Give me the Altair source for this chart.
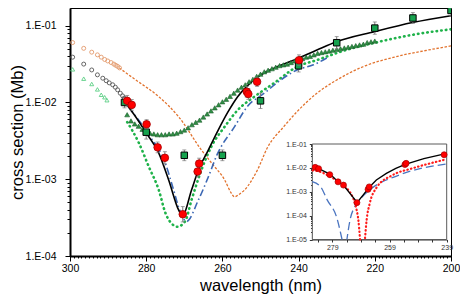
import altair as alt
import pandas as pd

# ------------------------------------------------------------------ data
# red circles (measurements)
red_wl = [285.0, 283.8, 279.9, 277.0, 275.1, 270.4, 266.5, 266.1, 253.6, 253.2, 250.9, 239.9]
red_cs = [1.05e-2, 9.3e-3, 5.2e-3, 2.6e-3, 1.9e-3, 3.5e-4, 1.26e-3, 1.6e-3, 1.38e-2, 1.29e-2, 1.86e-2, 3.55e-2]
red_err = [0.07, 0.07, 0.06, 0.07, 0.08, 0.10, 0.07, 0.07, 0.07, 0.07, 0.06, 0.07]  # log10 half width

# green squares
sq_wl = [285.7, 280, 270, 260, 250, 240, 230, 220, 210, 200]
sq_cs = [1.0e-2, 4.1e-3, 2.05e-3, 2.05e-3, 1.05e-2, 3.0e-2, 6.0e-2, 9.3e-2, 1.26e-1, 1.58e-1]
sq_err = [0.07, 0.09, 0.07, 0.07, 0.10, 0.08, 0.08, 0.08, 0.07, 0.07]

# dark green filled triangles
tri_wl = [285, 284, 283, 282, 281, 280, 279, 278, 277, 276, 275, 274, 273, 272, 271, 270,
          269, 268, 267, 266, 265, 264, 263, 262, 261, 260, 259, 258, 257, 256, 255, 254,
          253, 252, 251, 250, 249, 248, 247, 246, 245, 244, 243, 242, 241, 240, 239, 238,
          237, 236, 235, 234, 233, 232, 231, 230, 229, 228, 227, 226, 225, 224, 223, 222,
          221, 220]
tri_cs = [6.92e-3, 5.75e-3, 5.25e-3, 4.90e-3, 4.47e-3, 4.17e-3, 3.98e-3, 3.89e-3, 3.80e-3,
          3.80e-3, 3.80e-3, 3.89e-3, 3.89e-3, 3.98e-3, 4.17e-3, 4.37e-3, 4.68e-3, 5.13e-3,
          5.50e-3, 5.89e-3, 6.46e-3, 7.08e-3, 7.76e-3, 8.51e-3, 9.33e-3, 1.02e-2, 1.10e-2,
          1.20e-2, 1.32e-2, 1.45e-2, 1.58e-2, 1.70e-2, 1.86e-2, 2.00e-2, 2.19e-2, 2.34e-2,
          2.51e-2, 2.63e-2, 2.75e-2, 2.88e-2, 3.02e-2, 3.09e-2, 3.16e-2, 3.31e-2, 3.47e-2,
          3.63e-2, 3.72e-2, 3.89e-2, 3.98e-2, 4.17e-2, 4.37e-2, 4.47e-2, 4.57e-2, 4.68e-2,
          4.79e-2, 4.90e-2, 5.01e-2, 5.13e-2, 5.25e-2, 5.37e-2, 5.50e-2, 5.62e-2, 5.75e-2,
          6.03e-2, 6.17e-2, 6.31e-2]

# open symbols (long-wavelength tail)
oc_wl = [299.3, 296.4, 294.3, 292.8, 291.8, 290.9, 290.1, 289.2, 288.5, 288.0, 287.5, 287.0]
oc_cs = [6.03e-2, 5.07e-2, 4.52e-2, 4.17e-2, 3.89e-2, 3.63e-2, 3.47e-2, 3.31e-2, 3.16e-2,
         3.05e-2, 2.95e-2, 2.82e-2]
gc_wl = [299.3, 296.4, 294.3, 292.8, 291.4, 290.5, 289.7, 288.8, 288.1, 287.5, 286.8, 286.2, 285.75]
gc_cs = [3.89e-2, 3.16e-2, 2.65e-2, 2.29e-2, 2.07e-2, 1.92e-2, 1.80e-2, 1.70e-2, 1.58e-2,
         1.46e-2, 1.32e-2, 1.22e-2, 1.14e-2]
gt_wl = [299.3, 296.4, 294.3, 292.8, 291.8, 290.9, 290.3]
gt_cs = [2.70e-2, 2.04e-2, 1.74e-2, 1.48e-2, 1.26e-2, 1.17e-2, 1.07e-2]

# model curves
orange_wl = [287.0, 282.7, 276.7, 271.5, 265.5, 262.5, 259.4, 257.8, 256.8, 255.7, 254.2, 250.8,
             248.2, 243.9, 240.4, 235.2, 230.0, 223.1, 214.5, 205.9, 200.0]
orange_cs = [2.79e-2, 1.96e-2, 1.19e-2, 6.53e-3, 2.40e-3, 1.55e-3, 9.77e-4, 6.76e-4, 5.89e-4,
             6.31e-4, 7.24e-4, 1.32e-3, 2.57e-3, 4.84e-3, 7.59e-3, 1.32e-2, 1.96e-2, 2.92e-2,
             3.94e-2, 4.83e-2, 5.45e-2]
black_wl = [285.75, 283.0, 279.97, 276.7, 274.1, 271.5, 270.5, 268.1, 266.3, 263.7, 261.1,
            258.5, 256.0, 253.4, 249.9, 245.6, 240.4, 235.2, 230.05, 220.1, 210.1, 200.0]
black_cs = [1.03e-2, 6.76e-3, 3.98e-3, 2.19e-3, 9.77e-4, 3.98e-4, 3.31e-4, 7.24e-4, 1.32e-3,
            2.40e-3, 4.37e-3, 7.59e-3, 1.19e-2, 1.66e-2, 2.29e-2, 2.92e-2, 3.72e-2, 4.83e-2,
            6.19e-2, 8.36e-2, 0.110, 0.135]
blue_wl = [284.0, 279.3, 275.0, 272.8, 271.5, 269.4, 266.3, 263.7, 261.4, 256.8, 253.4, 249.0,
           244.7, 240.4, 236.1, 232.6]
blue_cs = [7.94e-3, 3.80e-3, 1.62e-3, 7.24e-4, 4.37e-4, 2.82e-4, 5.37e-4, 1.07e-3, 2.09e-3,
           4.84e-3, 8.91e-3, 1.32e-2, 1.96e-2, 2.65e-2, 3.09e-2, 3.80e-2]
gdot_wl = [285.3, 281.9, 279.3, 276.7, 274.95, 272.8, 271.9, 269.8, 268.1, 265.5, 262.9, 259.4,
           256.0, 251.6, 246.5, 240.4, 235.2, 227.5, 218.8, 210.2, 200.0]
gdot_cs = [5.89e-3, 2.95e-3, 1.45e-3, 7.24e-4, 3.63e-4, 2.51e-4, 2.40e-4, 2.82e-4, 5.37e-4,
           1.32e-3, 2.66e-3, 4.84e-3, 7.94e-3, 1.19e-2, 1.78e-2, 2.92e-2, 3.57e-2, 4.83e-2,
           6.19e-2, 7.59e-2, 8.97e-2]

# inset
ins_red_wl = [285.0, 283.8, 279.9, 277.0, 275.1, 270.4, 266.5, 266.1, 253.6, 253.2, 239.9]
ins_red_cs = [1.05e-2, 9.3e-3, 5.2e-3, 2.6e-3, 1.9e-3, 3.5e-4, 1.26e-3, 1.6e-3, 1.38e-2, 1.55e-2, 3.55e-2]
ins_black_wl = [285.2, 279.7, 277.2, 275.3, 270.3, 265.9, 263.6, 260.1, 256.8, 253.5, 247.0, 240.1]
ins_black_cs = [1.12e-2, 5.37e-3, 2.75e-3, 2.00e-3, 3.55e-4, 1.62e-3, 3.09e-3, 5.89e-3, 9.55e-3,
                1.41e-2, 2.45e-2, 3.80e-2]
ins_blue_wl = [286.0, 283.1, 280.8, 277.4, 275.6, 273.9, 272.8, 271.1, 269.9, 265.9, 255.6, 239.4]
ins_blue_cs = [2.63e-3, 1.62e-3, 4.57e-4, 7.94e-5, 1.0e-5, 1.0e-5, 6.61e-5, 2.40e-4, 3.89e-4,
               1.20e-3, 5.01e-3, 1.45e-2]
ins_blue_seg = [0, 0, 0, 0, 0, 1, 1, 1, 1, 1, 1, 1]
ins_reddot_wl = [286.0, 283.1, 279.7, 276.2, 271.7, 270.5, 269.9, 269.3,
                 267.6, 267.0, 265.9, 263.6, 257.9, 251.0, 240.1]
ins_reddot_cs = [7.94e-3, 6.76e-3, 4.27e-3, 2.29e-3, 5.37e-4, 1.74e-4, 6.61e-5, 1.0e-5,
                 1.0e-5, 6.61e-5, 3.31e-4, 1.45e-3, 5.01e-3, 9.55e-3, 2.14e-2]
ins_reddot_seg = [0, 0, 0, 0, 0, 0, 0, 0, 1, 1, 1, 1, 1, 1, 1]

# axes / ticks
x_major = [200, 220, 240, 260, 280, 300]
y_major = [1e-4, 1e-3, 1e-2, 1e-1]
y_major_labels = ["1.E-04", "1.E-03", "1.E-02", "1.E-01"]
ins_x_ticks = [284, 279, 274, 269, 264, 259, 254, 249, 244, 239]
ins_x_labels = [279, 259, 239]
ins_y_major = [1e-5, 1e-4, 1e-3, 1e-2, 1e-1]
ins_y_labels = ["1.E-05", "1.E-04", "1.E-03", "1.E-02", "1.E-01"]

# ------------------------------------------------------------------ layout
FONT = "Liberation Sans"
W, H = 381, 248
PAD_L, PAD_T = 62, 0

xs = alt.Scale(domain=[200, 300], reverse=True, nice=False, zero=False)
ys = alt.Scale(type="log", domain=[1e-4, 0.17], nice=False)

# inset placement (plot coordinates)
INS_X0, INS_X1 = 242.3, 376.7
INS_Y0, INS_Y1 = 231.5, 136.0
ixs = alt.Scale(domain=[239, 286], range=[INS_X1, INS_X0], nice=False, zero=False)
iys = alt.Scale(type="log", domain=[1e-5, 0.1], range=[INS_Y0, INS_Y1], nice=False)


def lab_expr(vals, labs):
    s = "''"
    for v, l in zip(vals, labs):
        s = f"datum.value == {v!r} ? '{l}' : ({s})"
    return s


x_minor = list(range(200, 301))
y_minor = [k * 10.0 ** d for d in (-4, -3, -2) for k in range(1, 10)] + [0.1]

common = dict(labelFont=FONT, labelColor="black", labelOverlap=False, labelFlush=False,
              grid=False, tickColor="black", tickWidth=1)

x_axis = alt.Axis(orient="bottom", values=x_major, tickSize=5, domainColor="black", domainWidth=2,
                  labelFontSize=10.5, labelPadding=2,
                  title="wavelength (nm)", titleFont=FONT, titleFontSize=16.5,
                  titleFontWeight="normal", titleColor="black", titlePadding=4, **common)
x_axis_minor = alt.Axis(orient="bottom", values=x_minor, tickSize=2, labels=False, domain=False,
                        title=None, **common)
y_axis = alt.Axis(orient="left", values=y_major, labelExpr=lab_expr(y_major, y_major_labels),
                  tickSize=5, domainColor="black", domainWidth=2,
                  labelFontSize=10.5, labelPadding=9,
                  title="cross section (Mb)", titleFont=FONT, titleFontSize=16.5,
                  titleFontWeight="normal", titleColor="black", titlePadding=0, **common)
y_axis_minor = alt.Axis(orient="left", values=y_minor, tickSize=3, labels=False, domain=False,
                        title=None, **common)


def X(axis=None):
    return alt.X("wl:Q", scale=xs, axis=axis)


def Y(axis=None, field="cs"):
    return alt.Y(f"{field}:Q", scale=ys, axis=axis)


def df(wl, cs, **extra):
    d = pd.DataFrame({"wl": wl, "cs": cs})
    for k, v in extra.items():
        d[k] = v
    return d


red_df = df(red_wl, red_cs, err=red_err)
red_df["lo"] = red_df["cs"] / 10 ** red_df["err"]
red_df["hi"] = red_df["cs"] * 10 ** red_df["err"]
sq_df = df(sq_wl, sq_cs, err=sq_err)
sq_df["lo"] = sq_df["cs"] / 10 ** sq_df["err"]
sq_df["hi"] = sq_df["cs"] * 10 ** sq_df["err"]


def line(d, color, width, dash=None, cap="butt", interp="monotone"):
    kw = dict(color=color, strokeWidth=width, strokeCap=cap, interpolate=interp, clip=True)
    if dash:
        kw["strokeDash"] = dash
    return alt.Chart(d).mark_line(**kw).encode(x=X(), y=Y(), order="wl:Q")


def pts(d, shape, size, fill=None, stroke=None, sw=1.0):
    if fill is None:
        m = dict(shape=shape, size=size, filled=False, stroke=stroke, strokeWidth=sw, opacity=1)
    else:
        m = dict(shape=shape, size=size, filled=True, fill=fill, stroke=stroke, strokeWidth=sw, opacity=1)
    return alt.Chart(d).mark_point(clip=True, **m).encode(x=X(), y=Y())


def ebar(d):
    r = alt.Chart(d).mark_rule(color="#7a7a7a", strokeWidth=1, clip=True).encode(
        x=X(), y=Y(field="lo"), y2="hi:Q")
    c1 = alt.Chart(d).mark_tick(color="#7a7a7a", orient="horizontal", size=4, thickness=1, clip=True).encode(
        x=X(), y=Y(field="hi"))
    c2 = alt.Chart(d).mark_tick(color="#7a7a7a", orient="horizontal", size=4, thickness=1, clip=True).encode(
        x=X(), y=Y(field="lo"))
    return [r, c1, c2]


carrier_df = df([250], [1e-2])
major_carrier = alt.Chart(carrier_df).mark_point(opacity=0).encode(x=X(x_axis), y=Y(y_axis))
minor_carrier = alt.Chart(carrier_df).mark_point(opacity=0).encode(x=X(x_axis_minor), y=Y(y_axis_minor))

main = alt.layer(
    minor_carrier,
    major_carrier,
    line(df(orange_wl, orange_cs), "#e2732e", 1.3, [2.5, 1.6]),
    pts(df(oc_wl, oc_cs), "circle", 16, stroke="#e39a6c", sw=0.9),
    pts(df(gc_wl, gc_cs), "circle", 16, stroke="#555555", sw=0.9),
    pts(df(gt_wl, gt_cs), "triangle-up", 16, stroke="#5ccf86", sw=0.9),
    line(df(gdot_wl, gdot_cs), "#1fb24a", 2.6, [0.5, 4.2], cap="round"),
    line(df(blue_wl, blue_cs), "#3c68b4", 1.6, [7, 3, 1.5, 3]),
    line(df(black_wl, black_cs), "black", 1.6),
    pts(df(tri_wl, tri_cs), "triangle-up", 24, fill="#2f8f45", stroke="#1d5e2c", sw=0.6),
    *ebar(sq_df),
    pts(sq_df, "square", 42, fill="#16a24e", stroke="black", sw=1),
    *ebar(red_df),
    pts(red_df, "circle", 58, fill="#ff0000", stroke="#a40000", sw=0.8),
).resolve_axis(x="independent", y="independent")

# ---------------------------------------------------------------- inset
ins_y_minor = [k * 10.0 ** d for d in (-5, -4, -3, -2) for k in range(2, 10)]
icommon = dict(labelFont=FONT, labelColor="#333333", labelOverlap=False, labelFlush=False,
               grid=False, tickColor="#333333", tickWidth=1, title=None)
ix_axis = alt.Axis(orient="bottom", offset=INS_Y0 - H, values=ins_x_ticks,
                   labelExpr=lab_expr(ins_x_labels, [str(v) for v in ins_x_labels]),
                   tickSize=2.5, domainColor="#333333", domainWidth=1.2,
                   labelFontSize=7, labelPadding=1, **icommon)
iy_axis = alt.Axis(orient="left", offset=-INS_X0, values=ins_y_major,
                   labelExpr=lab_expr(ins_y_major, ins_y_labels),
                   tickSize=3, domainColor="#333333", domainWidth=1.2,
                   labelFontSize=7, labelPadding=3, **icommon)
iy_axis_minor = alt.Axis(orient="left", offset=-INS_X0, values=ins_y_minor,
                         tickSize=1.8, labels=False, domain=False, **icommon)


def IX(axis=None):
    return alt.X("wl:Q", scale=ixs, axis=axis)


def IY(axis=None):
    return alt.Y("cs:Q", scale=iys, axis=axis)


frame_df = pd.DataFrame({"wl": [286], "wl2": [239], "cs": [1e-5], "cs2": [0.1]})
frame = alt.Chart(frame_df).mark_rect(fill="white", stroke="#5a5a5a", strokeWidth=1).encode(
    x=IX(ix_axis), x2="wl2:Q", y=IY(iy_axis), y2="cs2:Q")
ins_minor_carrier = alt.Chart(df([260], [1e-3])).mark_point(opacity=0).encode(
    x=IX(None), y=IY(iy_axis_minor))


def iline(d, color, width, dash=None, cap="butt", interp="monotone", detail=False):
    kw = dict(color=color, strokeWidth=width, strokeCap=cap, interpolate=interp)
    if dash:
        kw["strokeDash"] = dash
    enc = dict(x=IX(), y=IY(), order="wl:Q")
    if detail:
        enc["detail"] = "seg:N"
    return alt.Chart(d).mark_line(**kw).encode(**enc)


inset = alt.layer(
    frame,
    ins_minor_carrier,
    iline(df(ins_blue_wl, ins_blue_cs, seg=ins_blue_seg), "#4a74c0", 1.3, [8, 4], detail=True),
    iline(df(ins_reddot_wl, ins_reddot_cs, seg=ins_reddot_seg), "#ff1a1a", 2.2, [0.5, 3.2],
          cap="round", detail=True),
    iline(df(ins_black_wl, ins_black_cs), "black", 1.3, interp="linear"),
    alt.Chart(df(ins_red_wl, ins_red_cs)).mark_point(
        shape="circle", size=36, filled=True, fill="#ff0000", stroke="#a40000", strokeWidth=0.7,
        opacity=1).encode(x=IX(), y=IY()),
).resolve_axis(x="independent", y="independent")

chart = alt.layer(main, inset).resolve_scale(x="independent", y="independent").properties(
    width=W, height=H,
    padding={"left": PAD_L, "top": PAD_T, "right": 9, "bottom": 40},
    autosize=alt.AutoSizeParams(type="none"),
).configure(font=FONT).configure_view(stroke="black", strokeWidth=1)

chart.save("out.html", embed_options={"renderer": "svg", "actions": False})
